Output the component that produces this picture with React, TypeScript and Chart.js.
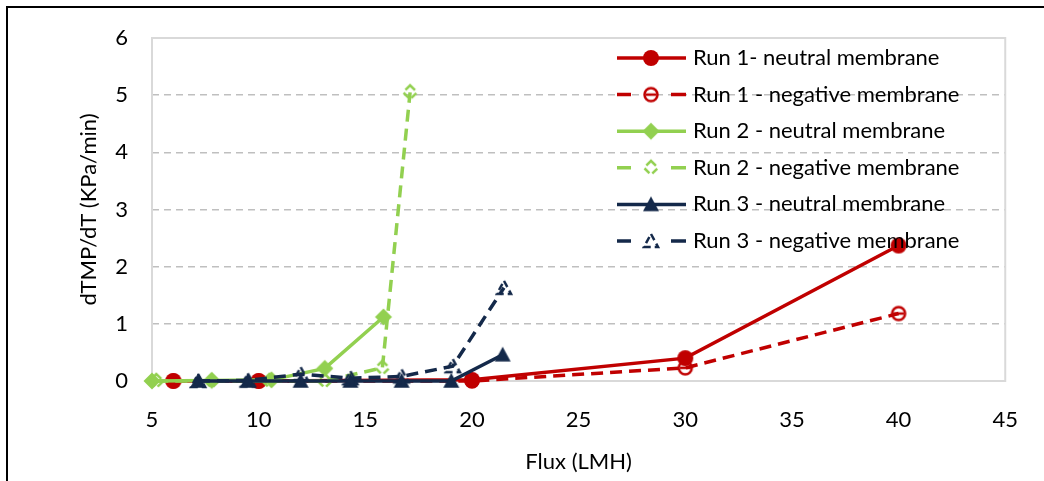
import React, { useEffect, useRef } from 'react';
import { Chart, registerables } from 'chart.js';

Chart.register(...registerables);

// ---- Data ----
const run1NeutralX = [6, 10, 20, 30, 40];
const run1NeutralY = [0, 0, 0.02, 0.4, 2.37];

const run1NegativeX = [6, 10, 20, 30, 40];
const run1NegativeY = [0, 0, 0, 0.23, 1.18];

const run2NeutralX = [5.0, 7.8, 10.6, 13.1, 15.85];
const run2NeutralY = [0, 0.01, 0.02, 0.22, 1.12];

const run2NegativeX = [5.2, 7.8, 10.5, 13.1, 15.8, 17.1];
const run2NegativeY = [0, 0, 0, 0, 0.23, 5.05];

const run3NeutralX = [7.16, 9.49, 11.97, 14.3, 16.7, 19.03, 21.44];
const run3NeutralY = [0, 0, 0, 0, 0, 0, 0.46];

const run3NegativeX = [7.16, 9.49, 11.97, 14.3, 16.7, 19.1, 21.5];
const run3NegativeY = [0, 0.01, 0.12, 0.05, 0.08, 0.26, 1.63];

const seriesLabels = [
  'Run 1- neutral membrane',
  'Run 1 - negative membrane',
  'Run 2 - neutral membrane',
  'Run 2 - negative membrane',
  'Run 3 - neutral membrane',
  'Run 3 - negative membrane',
];

const xTitle = 'Flux (LMH)';
const yTitle = 'dTMP/dT (KPa/min)';

const RED = '#C00000';
const GREEN = '#92D050';
const NAVY = '#14294A';
const FONT_FAMILY = "Lato, 'Noto Sans', sans-serif";
const FONT_SIZE = 22;

type Shape = 'circle' | 'diamond' | 'triangle';

function makeMarker(shape: Shape, color: string, filled: boolean): HTMLCanvasElement {
  const c = document.createElement('canvas');
  c.width = 22;
  c.height = 22;
  const ctx = c.getContext('2d')!;
  const cx = 11;
  const cy = 11;
  ctx.strokeStyle = color;
  ctx.fillStyle = color;
  ctx.lineWidth = 2.5;
  ctx.beginPath();
  if (shape === 'circle') {
    ctx.arc(cx, cy, filled ? 8 : 6.5, 0, Math.PI * 2);
  } else if (shape === 'diamond') {
    const r = filled ? 8.5 : 7;
    ctx.moveTo(cx, cy - r);
    ctx.lineTo(cx + r, cy);
    ctx.lineTo(cx, cy + r);
    ctx.lineTo(cx - r, cy);
    ctx.closePath();
  } else {
    const r = filled ? 8 : 7;
    ctx.moveTo(cx, cy - r);
    ctx.lineTo(cx + r, cy + r * 0.85);
    ctx.lineTo(cx - r, cy + r * 0.85);
    ctx.closePath();
  }
  if (filled) {
    ctx.fill();
  } else {
    if (shape === 'circle') {
      ctx.stroke();
      ctx.beginPath();
      ctx.moveTo(cx - 5, cy);
      ctx.lineTo(cx + 5, cy);
      ctx.stroke();
    } else {
      ctx.setLineDash([7, 4]);
      ctx.stroke();
    }
  }
  return c;
}

function toPoints(xs: number[], ys: number[]) {
  return xs.map((x, i) => ({ x, y: ys[i] }));
}

export default function App() {
  const ref = useRef<HTMLCanvasElement | null>(null);

  useEffect(() => {
    if (!ref.current) return;
    const markers = [
      makeMarker('circle', RED, true),
      makeMarker('circle', RED, false),
      makeMarker('diamond', GREEN, true),
      makeMarker('diamond', GREEN, false),
      makeMarker('triangle', NAVY, true),
      makeMarker('triangle', NAVY, false),
    ];
    const colors = [RED, RED, GREEN, GREEN, NAVY, NAVY];
    const dashed = [false, true, false, true, false, true];
    const xs = [run1NeutralX, run1NegativeX, run2NeutralX, run2NegativeX, run3NeutralX, run3NegativeX];
    const ys = [run1NeutralY, run1NegativeY, run2NeutralY, run2NegativeY, run3NeutralY, run3NegativeY];

    const datasets = seriesLabels.map((label, i) => ({
      label,
      data: toPoints(xs[i], ys[i]),
      borderColor: colors[i],
      backgroundColor: colors[i],
      borderWidth: 3.5,
      borderDash: dashed[i] ? [12, 7] : [],
      pointStyle: markers[i],
      pointRadius: 8,
      tension: 0,
      fill: false,
      clip: false,
      order: 6 - i,
    }));

    const font = { family: FONT_FAMILY, size: FONT_SIZE };

    const frame = {
      id: 'plotFrame',
      beforeDatasetsDraw(chart: any) {
        const { ctx, chartArea } = chart;
        ctx.save();
        ctx.strokeStyle = '#D9D9D9';
        ctx.lineWidth = 2;
        ctx.setLineDash([]);
        ctx.strokeRect(chartArea.left, chartArea.top, chartArea.right - chartArea.left, chartArea.bottom - chartArea.top);
        ctx.restore();
      },
    };

    const legend = {
      id: 'customLegend',
      afterDatasetsDraw(chart: any) {
        const { ctx } = chart;
        ctx.save();
        chart.data.datasets.forEach((ds: any, i: number) => {
          const y = 58 + i * 36.6;
          ctx.strokeStyle = ds.borderColor;
          ctx.lineWidth = 3.5;
          ctx.setLineDash([]);
          ctx.beginPath();
          if (dashed[i]) {
            ctx.moveTo(617, y);
            ctx.lineTo(631, y);
            ctx.moveTo(671, y);
            ctx.lineTo(686, y);
          } else {
            ctx.moveTo(617, y);
            ctx.lineTo(686, y);
          }
          ctx.stroke();
          const m = ds.pointStyle as HTMLCanvasElement;
          ctx.drawImage(m, 651 - m.width / 2, y - m.height / 2);
          ctx.fillStyle = '#000';
          ctx.font = `${FONT_SIZE}px ${FONT_FAMILY}`;
          ctx.textBaseline = 'middle';
          ctx.textAlign = 'left';
          ctx.fillText(ds.label, 693, y);
        });
        ctx.restore();
      },
    };

    const chart = new Chart(ref.current, {
      type: 'line',
      data: { datasets },
      options: {
        animation: false,
        responsive: false,
        maintainAspectRatio: false,
        layout: { padding: { left: 0, top: 38, right: 31, bottom: 0 } },
        plugins: { legend: { display: false }, tooltip: { enabled: false } },
        scales: {
          x: {
            type: 'linear',
            min: 5,
            max: 45,
            ticks: { stepSize: 5, color: '#000', font, padding: 26 },
            grid: { display: false, drawTicks: false },
            border: { display: false },
            title: { display: true, text: xTitle, color: '#000', font, padding: { top: 0, bottom: 6 } },
            afterFit: (s: any) => {
              s.height = 100;
            },
          },
          y: {
            type: 'linear',
            min: 0,
            max: 6,
            ticks: { stepSize: 1, color: '#000', font, padding: 24 },
            grid: { color: '#BFBFBF', lineWidth: 1.5, drawTicks: false },
            border: { display: false, dash: [7, 5] },
            title: { display: true, text: yTitle, color: '#000', font, padding: { top: 76, bottom: 0 } },
            afterFit: (s: any) => {
              s.width = 152;
            },
          },
        },
      } as any,
      plugins: [frame, legend],
    });
    return () => chart.destroy();
  }, []);

  return (
    <div style={{ position: 'fixed', left: 0, top: 0, width: 1044, height: 481, background: '#fff', overflow: 'hidden' }}>
      <canvas ref={ref} width={1044} height={481} style={{ position: 'absolute', left: 0, top: 0, width: 1044, height: 481 }} />
      <div
        style={{
          position: 'absolute',
          left: 6,
          top: 6,
          width: 1100,
          height: 600,
          borderLeft: '2px solid #000',
          borderTop: '2px solid #000',
          pointerEvents: 'none',
        }}
      />
    </div>
  );
}
